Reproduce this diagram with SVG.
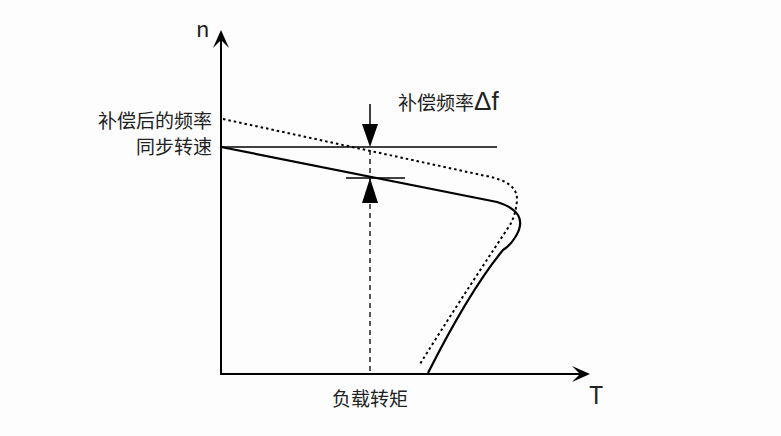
<svg xmlns="http://www.w3.org/2000/svg" width="781" height="436" viewBox="0 0 781 436">
<defs>
<style>text{font-family:"Noto Sans CJK SC","Liberation Sans",sans-serif;fill:#222}</style>
</defs>
<rect width="781" height="436" fill="#fdfdfd"/>
<g id="axes" stroke="#000" stroke-width="2" fill="none">
<path d="M221,374 V40"/><path d="M213,48 L221,30 L229,48 L221,40 Z" fill="#000" stroke="none"/>
<path d="M220,374 H580"/><path d="M572,366 L590,374 L572,382 L580,374 Z" fill="#000" stroke="none"/>
</g>
<g id="connectors" stroke="#000" fill="none">
<path d="M221,147 H497" stroke-width="1.3"/>
<path d="M346,178 H405" stroke-width="1.3"/>
<path d="M370,150 V373" stroke-width="1.3" stroke-dasharray="5,4"/>
<path d="M370,104 V124" stroke-width="1.5"/>
<path d="M362,124 L378,124 L370,147 Z" fill="#000" stroke="none"/>
<path d="M362,203 L378,203 L370,178 Z" fill="#000" stroke="none"/>
<path d="M221,147 L497,202 Q530,212 516,236 Q510,246 503,250 Q470,290 428,373" stroke-width="2.2"/>
<path d="M223,119 L486,176 Q518,182 517,200 Q516,214 510,225 Q460,300 420,364" stroke-width="2" stroke-dasharray="2.5,3"/>
</g>
<g id="labels" font-size="19">
<text x="196" y="37" font-size="22" font-family="Liberation Sans">n</text>
<text x="212" y="128" text-anchor="end">补偿后的频率</text>
<text x="212" y="154" text-anchor="end">同步转速</text>
<text x="398" y="110">补偿频率<tspan font-size="26" font-family="Liberation Sans">Δf</tspan></text>
<text x="370" y="406" text-anchor="middle">负载转矩</text>
<text x="589" y="404" font-size="24" font-family="Liberation Sans">T</text>
</g>
</svg>
